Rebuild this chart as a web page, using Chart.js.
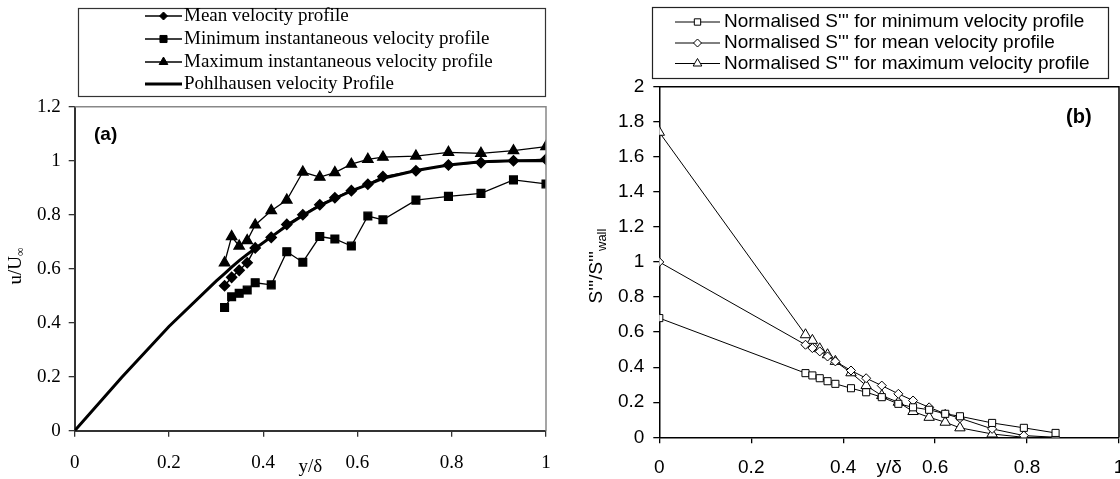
<!DOCTYPE html>
<html>
<head>
<meta charset="utf-8">
<script src="https://cdn.jsdelivr.net/npm/chart.js@4.4.1/dist/chart.umd.min.js"></script>
<style>
html,body{margin:0;padding:0;width:1120px;height:479px;overflow:hidden;background:#fff;}
#wa{position:absolute;left:0;top:0;width:560px;height:479px;}
#wb{position:absolute;left:560px;top:0;width:600px;height:479px;}
canvas{display:block;}
</style>
</head>
<body>
<div id="wa"><canvas id="ca" width="560" height="479"></canvas></div>
<div id="wb"><canvas id="cb" width="600" height="479"></canvas></div>
<script>
// ---------- Data: chart (a) ----------
const xA = [0.318,0.333,0.349,0.366,0.383,0.417,0.450,0.484,0.520,0.552,0.587,0.622,0.654,0.724,0.793,0.862,0.931,1.000];
const meanVel = [0.537,0.568,0.594,0.622,0.677,0.716,0.764,0.800,0.837,0.863,0.889,0.913,0.941,0.963,0.984,0.993,1.000,1.005];
const minVel  = [0.456,0.496,0.509,0.521,0.548,0.540,0.663,0.624,0.719,0.710,0.684,0.795,0.781,0.854,0.868,0.879,0.929,0.914];
const maxVel  = [0.622,0.719,0.684,0.704,0.762,0.815,0.854,0.958,0.939,0.956,0.987,1.005,1.013,1.017,1.031,1.027,1.037,1.052];
const xPohl = [0,0.1,0.2,0.3,0.318,0.333,0.349,0.366,0.383,0.417,0.450,0.484,0.520,0.552,0.587,0.622,0.654,0.724,0.793,0.862,0.931,1.000];
const pohl  = [0,0.198,0.386,0.554,0.582,0.606,0.630,0.653,0.675,0.718,0.759,0.797,0.834,0.860,0.888,0.911,0.935,0.964,0.984,0.996,1.000,1.000];
const labelsA = ["Mean velocity profile","Minimum instantaneous velocity profile","Maximum instantaneous velocity profile","Pohlhausen velocity Profile"];

// ---------- Data: chart (b) ----------
const xB = [0,0.318,0.333,0.349,0.366,0.383,0.417,0.450,0.484,0.520,0.552,0.587,0.622,0.654,0.724,0.793,0.862];
const sMin  = [0.68,0.366,0.353,0.337,0.320,0.305,0.280,0.257,0.229,0.191,0.171,0.157,0.134,0.120,0.082,0.054,0.025];
const sMean = [1.00,0.528,0.509,0.490,0.461,0.433,0.381,0.337,0.295,0.248,0.210,0.171,0.134,0.109,0.048,0.010,0.000];
const sMax  = [1.74,0.585,0.553,0.505,0.471,0.433,0.368,0.295,0.238,0.200,0.147,0.114,0.086,0.054,0.019,0.000,0.000];
const labelsB = ["Normalised S''' for minimum velocity profile","Normalised S''' for mean velocity profile","Normalised S''' for maximum velocity profile"];

const pts = (xs, ys) => xs.map((x, i) => ({x: x, y: ys[i]}));
const SERIF = "'Liberation Serif','Times New Roman',serif";
const SANS = "'Liberation Sans',Arial,sans-serif";

function drawMarker(ctx, style, r, x, y, fill, stroke, lw) {
  ctx.save();
  ctx.beginPath();
  if (style === 'rect') {
    const s = Math.SQRT1_2 * r;
    ctx.rect(x - s, y - s, 2 * s, 2 * s);
  } else if (style === 'rectRot') {
    ctx.moveTo(x, y - r); ctx.lineTo(x + r, y); ctx.lineTo(x, y + r); ctx.lineTo(x - r, y); ctx.closePath();
  } else if (style === 'triangle') {
    ctx.moveTo(x, y - r);
    ctx.lineTo(x + Math.sin(2*Math.PI/3) * r, y + r / 2);
    ctx.lineTo(x - Math.sin(2*Math.PI/3) * r, y + r / 2);
    ctx.closePath();
  }
  ctx.fillStyle = fill; ctx.fill();
  ctx.strokeStyle = stroke; ctx.lineWidth = lw; ctx.stroke();
  ctx.restore();
}

const decor = {
  id: 'decor',
  afterDraw(chart, args, o) {
    const ctx = chart.ctx, a = chart.chartArea;
    ctx.save();
    ctx.strokeStyle = o.frameColor; ctx.lineWidth = o.frameWidth;
    ctx.beginPath();
    ctx.moveTo(a.left, a.top); ctx.lineTo(a.right, a.top); ctx.lineTo(a.right, a.bottom);
    ctx.stroke();
    const b = o.legendBox;
    ctx.fillStyle = '#fff';
    ctx.fillRect(b[0], b[1], b[2], b[3]);
    ctx.strokeStyle = o.legendBorder; ctx.lineWidth = 1.2;
    ctx.strokeRect(b[0] + 0.5, b[1] + 0.5, b[2], b[3]);
    ctx.font = o.legendFont; ctx.fillStyle = '#000'; ctx.textBaseline = 'middle'; ctx.textAlign = 'left';
    o.legendRows.forEach((row, i) => {
      const y = o.rowY[i];
      ctx.strokeStyle = '#000'; ctx.lineWidth = row.lw;
      ctx.beginPath(); ctx.moveTo(o.lineX[0], y); ctx.lineTo(o.lineX[1], y); ctx.stroke();
      if (row.style) drawMarker(ctx, row.style, row.r, (o.lineX[0] + o.lineX[1]) / 2, y, row.fill, '#000', 1);
      ctx.fillStyle = '#000';
      ctx.fillText(row.text, o.textX, y);
    });
    ctx.font = o.tagFont; ctx.textAlign = 'left'; ctx.textBaseline = 'middle';
    ctx.fillText(o.tag, o.tagPos[0], o.tagPos[1]);
    const xs = chart.scales.x;
    ctx.font = o.xTitleFont; ctx.textAlign = 'center';
    ctx.fillText('y/δ', xs.getPixelForValue(0.5), o.xTitleY);
    ctx.translate(o.yTitlePos[0], o.yTitlePos[1]);
    ctx.rotate(-Math.PI / 2);
    ctx.font = o.yTitleFont;
    const w1 = ctx.measureText(o.yTitle[0]).width;
    ctx.font = o.ySubFont;
    const w2 = ctx.measureText(o.yTitle[1]).width;
    const start = -(w1 + w2) / 2;
    ctx.textAlign = 'left';
    ctx.font = o.yTitleFont;
    ctx.fillText(o.yTitle[0], start, 0);
    ctx.font = o.ySubFont;
    ctx.fillText(o.yTitle[1], start + w1, 5);
    ctx.restore();
  }
};

const fmt = v => String(Math.round(v * 10) / 10);

function axis(min, max, font, pad, fit, isX, color, bw) {
  return {
    type: 'linear', min: min, max: max,
    ticks: { stepSize: 0.2, font: font, color: '#000', padding: pad, callback: fmt },
    grid: { display: true, drawOnChartArea: false, drawTicks: true, tickLength: 6, color: color, lineWidth: 1.3 },
    border: { display: true, color: color, width: bw },
    afterFit(s) {
      if (isX) { s.height = fit; s.paddingLeft = 0; s.paddingRight = 0; }
      else { s.width = fit; s.paddingTop = 0; s.paddingBottom = 0; }
    }
  };
}

// ---------- Chart (a) ----------
new Chart(document.getElementById('ca'), {
  type: 'scatter',
  data: {
    datasets: [
      { label: labelsA[0], data: pts(xA, meanVel), showLine: true, borderColor: '#000', borderWidth: 1.5,
        pointStyle: 'rectRot', pointRadius: 5, backgroundColor: '#000', pointBorderColor: '#000' },
      { label: labelsA[1], data: pts(xA, minVel), showLine: true, borderColor: '#000', borderWidth: 1.3,
        pointStyle: 'rect', pointRadius: 5.5, backgroundColor: '#000', pointBorderColor: '#000' },
      { label: labelsA[2], data: pts(xA, maxVel), showLine: true, borderColor: '#000', borderWidth: 1.3,
        pointStyle: 'triangle', pointRadius: 6, backgroundColor: '#000', pointBorderColor: '#000' },
      { label: labelsA[3], data: pts(xPohl, pohl), showLine: true, borderColor: '#000', borderWidth: 3,
        pointRadius: 0 }
    ]
  },
  options: {
    responsive: false, animation: false,
    layout: { padding: { top: 106.7, right: 14, left: 0, bottom: 0 } },
    scales: {
      x: axis(0, 1, { family: SERIF, size: 19 }, 15, 48.3, true, '#333', 2),
      y: axis(0, 1.2, { family: SERIF, size: 19 }, 8, 74.7, false, '#333', 2)
    },
    plugins: {
      legend: { display: false }, tooltip: { enabled: false },
      decor: {
        frameColor: '#888', frameWidth: 1.5,
        legendBox: [78, 8, 467, 88], legendBorder: '#333',
        legendFont: "19px " + SERIF,
        lineX: [145, 182], textX: 184, rowY: [16, 39, 62, 84],
        legendRows: [
          { text: labelsA[0], style: 'rectRot', r: 4, fill: '#000', lw: 1.3 },
          { text: labelsA[1], style: 'rect', r: 5, fill: '#000', lw: 1.3 },
          { text: labelsA[2], style: 'triangle', r: 5, fill: '#000', lw: 1.3 },
          { text: labelsA[3], style: null, lw: 3 }
        ],
        tag: '(a)', tagFont: "bold 19px " + SANS, tagPos: [94, 135],
        xTitleFont: "19px " + SERIF, xTitleY: 467,
        yTitle: ['u/U', '∞'], yTitleFont: "19px " + SERIF, ySubFont: "12px " + SERIF, yTitlePos: [16, 266]
      }
    }
  },
  plugins: [decor]
});

// ---------- Chart (b) ----------
new Chart(document.getElementById('cb'), {
  type: 'scatter',
  data: {
    datasets: [
      { label: labelsB[0], data: pts(xB, sMin), showLine: true, borderColor: '#000', borderWidth: 1,
        pointStyle: 'rect', pointRadius: 5, backgroundColor: '#fff', pointBorderColor: '#000', pointBorderWidth: 1 },
      { label: labelsB[1], data: pts(xB, sMean), showLine: true, borderColor: '#000', borderWidth: 1,
        pointStyle: 'rectRot', pointRadius: 4.5, backgroundColor: '#fff', pointBorderColor: '#000', pointBorderWidth: 1 },
      { label: labelsB[2], data: pts(xB, sMax), showLine: true, borderColor: '#000', borderWidth: 1,
        pointStyle: 'triangle', pointRadius: 6, backgroundColor: '#fff', pointBorderColor: '#000', pointBorderWidth: 1 }
    ]
  },
  options: {
    responsive: false, animation: false,
    layout: { padding: { top: 86.7, right: 41, left: 0, bottom: 0 } },
    scales: {
      x: axis(0, 1, { family: SANS, size: 19 }, 13, 41.7, true, '#000', 1.5),
      y: axis(0, 2, { family: SANS, size: 19 }, 9, 99.3, false, '#000', 1.5)
    },
    plugins: {
      legend: { display: false }, tooltip: { enabled: false },
      decor: {
        frameColor: '#000', frameWidth: 1.5,
        legendBox: [92, 7, 456, 71], legendBorder: '#222',
        legendFont: "19px " + SANS,
        lineX: [115, 160], textX: 164, rowY: [22, 43, 63.5],
        legendRows: [
          { text: labelsB[0], style: 'rect', r: 4.5, fill: '#fff', lw: 1 },
          { text: labelsB[1], style: 'rectRot', r: 4, fill: '#fff', lw: 1 },
          { text: labelsB[2], style: 'triangle', r: 5, fill: '#fff', lw: 1 }
        ],
        tag: '(b)', tagFont: "bold 20px " + SANS, tagPos: [506, 117],
        xTitleFont: "19px " + SANS, xTitleY: 468,
        yTitle: ["S'''/S'''", 'wall'], yTitleFont: "19px " + SANS, ySubFont: "13px " + SANS, yTitlePos: [37, 266]
      }
    }
  },
  plugins: [decor]
});
</script>
</body>
</html>
